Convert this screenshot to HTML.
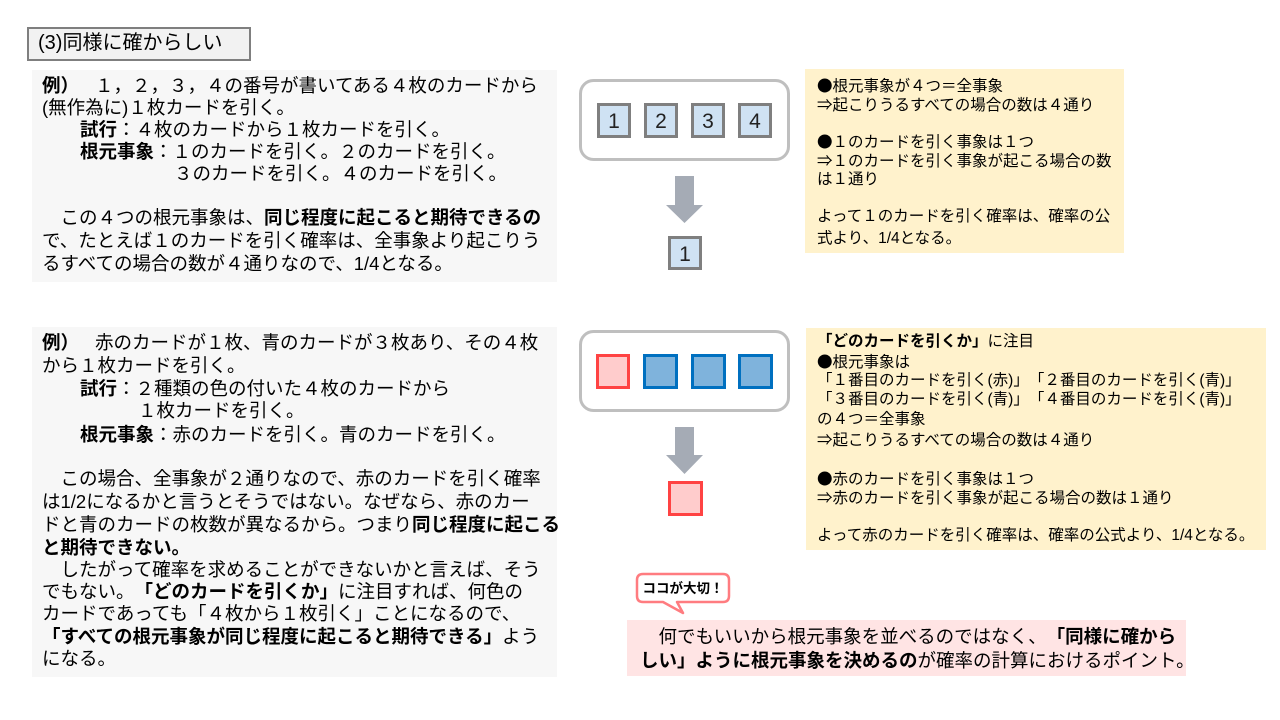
<!DOCTYPE html>
<html><head><meta charset="utf-8">
<style>
html,body{margin:0;padding:0;background:#fff;}
#p{position:relative;width:1280px;height:720px;overflow:hidden;background:#fff;font-family:"Liberation Sans","Noto Sans CJK JP",sans-serif;color:#000;text-spacing-trim:space-all;}
svg{position:absolute;left:0;top:0;}
.l{position:absolute;white-space:nowrap;font-size:18.5px;line-height:22px;height:22px;text-spacing-trim:space-all;}
.y{position:absolute;white-space:nowrap;font-size:15.5px;line-height:20px;height:20px;text-spacing-trim:space-all;}
.c{font-family:"Noto Sans CJK JP",sans-serif;}
.g{display:inline-block;width:16px;}
b{font-weight:bold;}
</style></head><body><div id="p">
<svg width="1280" height="720" viewBox="0 0 1280 720">
 <rect x="28" y="28" width="222" height="32" fill="#f2f2f2" stroke="#7f7f7f" stroke-width="2"/>
 <rect x="32" y="70" width="525" height="212" fill="#f7f7f7"/>
 <rect x="32" y="327" width="525" height="350" fill="#f7f7f7"/>
 <rect x="805" y="69" width="319" height="184" fill="#fff2cc"/>
 <rect x="806" y="328" width="460" height="222" fill="#fff2cc"/>
 <rect x="627" y="620" width="559" height="56" fill="#ffe4e4"/>
 <!-- group 1 -->
 <rect x="580.5" y="80.5" width="208" height="79" rx="13" fill="#fff" stroke="#bfbfbf" stroke-width="3"/>
 <g fill="#cfe2f3" stroke="#7f7f7f" stroke-width="3">
  <rect x="598.5" y="104.5" width="31" height="32"/>
  <rect x="645.5" y="104.5" width="31" height="32"/>
  <rect x="692.5" y="104.5" width="31" height="32"/>
  <rect x="739.5" y="104.5" width="31" height="32"/>
  <rect x="669.5" y="237.5" width="31" height="31"/>
 </g>
 <g font-family="Liberation Sans, sans-serif" font-size="21" fill="#222" text-anchor="middle">
  <text x="614" y="128">1</text><text x="661" y="128">2</text><text x="708" y="128">3</text><text x="755" y="128">4</text>
  <text x="685" y="261">1</text>
 </g>
 <polygon points="675,176 694,176 694,205 703,205 684.5,223 666,205 675,205" fill="#a5abb5"/>
 <!-- group 2 -->
 <rect x="580.5" y="331.5" width="208" height="79" rx="13" fill="#fff" stroke="#bfbfbf" stroke-width="3"/>
 <rect x="597.5" y="355.5" width="31" height="32" fill="#ffcccc" stroke="#ff4343" stroke-width="3"/>
 <g fill="#7fb3dc" stroke="#0070c0" stroke-width="3">
  <rect x="644.5" y="355.5" width="32" height="32"/>
  <rect x="692.5" y="355.5" width="32" height="32"/>
  <rect x="739.5" y="355.5" width="32" height="32"/>
 </g>
 <polygon points="675,427 694,427 694,455 703,455 684.5,474 666,455 675,455" fill="#a5abb5"/>
 <rect x="669.5" y="482.5" width="32" height="32" fill="#ffcccc" stroke="#ff4343" stroke-width="3"/>
 <!-- bubble -->
 <path d="M643,574 H723 Q729,574 729,580 V596 Q729,602 723,602 H677 L683,613 L663,602 H643 Q637,602 637,596 V580 Q637,574 643,574 Z" fill="#fff" stroke="#ff7c80" stroke-width="2.5" stroke-linejoin="round"/>
 <text x="683" y="593" text-anchor="middle" font-family="Liberation Sans, Noto Sans CJK JP, sans-serif" font-size="13.5" font-weight="bold" fill="#000">ココが大切！</text>
</svg>

<div class="l" style="left:38px;top:32px;font-size:20px;">(3)同様に確からしい</div>

<!-- example 1 -->
<div class="l" style="left:42px;top:75px;"><b>例）</b><span class="g"></span>１，２，３，４の番号が書いてある４枚のカードから</div>
<div class="l" style="left:42px;top:97px;">(無作為に)１枚カードを引く。</div>
<div class="l" style="left:80px;top:119px;"><b>試行</b>：４枚のカードから１枚カードを引く。</div>
<div class="l" style="left:80px;top:141px;"><b>根元事象</b>：１のカードを引く。２のカードを引く。</div>
<div class="l" style="left:174px;top:163px;">３のカードを引く。４のカードを引く。</div>
<div class="l" style="left:42px;top:207px;">　この４つの根元事象は、<b>同じ程度に起こると期待できるの</b></div>
<div class="l" style="left:42px;top:230px;">で、たとえば１のカードを引く確率は、全事象より起こりう</div>
<div class="l" style="left:42px;top:253px;">るすべての場合の数が４通りなので、1/4となる。</div>

<!-- example 2 -->
<div class="l" style="left:42px;top:332px;"><b>例）</b><span class="g"></span>赤のカードが１枚、青のカードが３枚あり、その４枚</div>
<div class="l" style="left:42px;top:355px;">から１枚カードを引く。</div>
<div class="l" style="left:80px;top:378px;"><b>試行</b>：２種類の色の付いた４枚のカードから</div>
<div class="l" style="left:138px;top:400px;">１枚カードを引く。</div>
<div class="l" style="left:80px;top:424px;"><b>根元事象</b>：赤のカードを引く。青のカードを引く。</div>
<div class="l" style="left:42px;top:468px;">　この場合、全事象が２通りなので、赤のカードを引く確率</div>
<div class="l" style="left:42px;top:491px;">は1/2になるかと言うとそうではない。なぜなら、赤のカー</div>
<div class="l" style="left:42px;top:514px;">ドと青のカードの枚数が異なるから。つまり<b>同じ程度に起こる</b></div>
<div class="l" style="left:42px;top:537px;"><b>と期待できない。</b></div>
<div class="l" style="left:42px;top:559px;">　したがって確率を求めることができないかと言えば、そう</div>
<div class="l" style="left:42px;top:581px;">でもない。<b>「どのカードを引くか」</b>に注目すれば、何色の</div>
<div class="l" style="left:42px;top:603px;">カードであっても「４枚から１枚引く」ことになるので、</div>
<div class="l" style="left:42px;top:626px;"><b>「すべての根元事象が同じ程度に起こると期待できる」</b>よう</div>
<div class="l" style="left:42px;top:648px;">になる。</div>

<!-- yellow 1 -->
<div class="y" style="left:817px;top:75px;"><span class="c">●</span>根元事象が４つ＝全事象</div>
<div class="y" style="left:817px;top:94px;"><span class="c">⇒</span>起こりうるすべての場合の数は４通り</div>
<div class="y" style="left:817px;top:131px;"><span class="c">●</span>１のカードを引く事象は１つ</div>
<div class="y" style="left:817px;top:150px;"><span class="c">⇒</span>１のカードを引く事象が起こる場合の数</div>
<div class="y" style="left:817px;top:170px;">は１通り</div>
<div class="y" style="left:817px;top:207px;">よって１のカードを引く確率は、確率の公</div>
<div class="y" style="left:817px;top:229px;">式より、1/4となる。</div>

<!-- yellow 2 -->
<div class="y" style="left:817px;top:332px;"><b>「どのカードを引くか」</b>に注目</div>
<div class="y" style="left:817px;top:351px;"><span class="c">●</span>根元事象は</div>
<div class="y" style="left:817px;top:371px;">「１番目のカードを引く(赤)」「２番目のカードを引く(青)」</div>
<div class="y" style="left:817px;top:390px;">「３番目のカードを引く(青)」「４番目のカードを引く(青)」</div>
<div class="y" style="left:817px;top:410px;">の４つ＝全事象</div>
<div class="y" style="left:817px;top:429px;"><span class="c">⇒</span>起こりうるすべての場合の数は４通り</div>
<div class="y" style="left:817px;top:468px;"><span class="c">●</span>赤のカードを引く事象は１つ</div>
<div class="y" style="left:817px;top:487px;"><span class="c">⇒</span>赤のカードを引く事象が起こる場合の数は１通り</div>
<div class="y" style="left:817px;top:526px;">よって赤のカードを引く確率は、確率の公式より、1/4となる。</div>

<!-- pink -->
<div class="l" style="left:640px;top:626px;font-size:18.5px;">　何でもいいから根元事象を並べるのではなく、<b>「同様に確から</b></div>
<div class="l" style="left:640px;top:650px;font-size:18.5px;"><b>しい」ように根元事象を決めるの</b>が確率の計算におけるポイント。</div>
</div></body></html>
